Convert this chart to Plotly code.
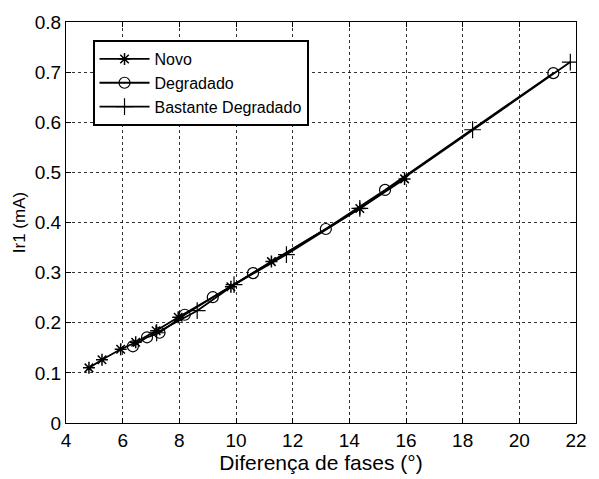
import plotly.graph_objects as go

novo_x = [4.81, 5.27, 5.93, 6.46, 7.18, 7.96, 9.82, 11.25, 14.37, 15.95]
novo_y = [0.110, 0.126, 0.147, 0.161, 0.184, 0.211, 0.272, 0.322, 0.428, 0.487]

degr_x = [6.36, 6.86, 7.30, 8.19, 9.18, 10.60, 13.17, 15.26, 21.20]
degr_y = [0.153, 0.171, 0.180, 0.216, 0.251, 0.299, 0.387, 0.465, 0.698]

bast_x = [7.20, 8.63, 9.93, 11.78, 14.37, 18.35, 21.80]
bast_y = [0.180, 0.224, 0.276, 0.336, 0.428, 0.585, 0.720]

names = ["Novo", "Degradado", "Bastante Degradado"]
xticks = list(range(4, 23, 2))
yticks = [0, 0.1, 0.2, 0.3, 0.4, 0.5, 0.6, 0.7, 0.8]

fig = go.Figure()
fig.add_trace(go.Scatter(x=novo_x, y=novo_y, name=names[0], mode="lines+markers",
                         line=dict(color="black", width=1.8),
                         marker=dict(symbol="asterisk-open", size=10, color="black",
                                     line=dict(color="black", width=1.5))))
fig.add_trace(go.Scatter(x=degr_x, y=degr_y, name=names[1], mode="lines+markers",
                         line=dict(color="black", width=1.8),
                         marker=dict(symbol="circle-open", size=11, color="black",
                                     line=dict(color="black", width=1.2))))
fig.add_trace(go.Scatter(x=bast_x, y=bast_y, name=names[2], mode="lines+markers",
                         line=dict(color="black", width=1.8),
                         marker=dict(symbol="cross-thin-open", size=12, color="black",
                                     line=dict(color="black", width=1.2))))

axis_common = dict(showline=True, linecolor="black", linewidth=1, mirror="ticks",
                   ticks="inside", ticklen=5, tickcolor="black",
                   showgrid=True, gridcolor="rgba(0,0,0,0.8)", griddash="dot", gridwidth=1,
                   zeroline=False, tickfont=dict(family="Liberation Sans, Arial", size=19, color="black"))

fig.update_layout(
    width=599, height=479,
    margin=dict(l=66, r=15, t=20, b=47),
    paper_bgcolor="white", plot_bgcolor="white",
    font=dict(family="Liberation Sans, Arial", color="black"),
    xaxis=dict(range=[4, 22], tickvals=xticks,
               title=dict(text="Diferença de fases (°)", font=dict(size=21), standoff=2),
               **axis_common),
    yaxis=dict(range=[0, 0.8], tickvals=yticks, ticktext=["0"] + [f"{v:.1f}" for v in yticks[1:]],
               title=dict(text="Ir1 (mA)", font=dict(size=17), standoff=4),
               **axis_common),
    legend=dict(x=0.052, y=0.955, xanchor="left", yanchor="top",
                bgcolor="white", bordercolor="black", borderwidth=2,
                font=dict(size=16, color="black"), tracegroupgap=0,
                itemwidth=50),
    showlegend=True,
)

fig.write_html("out.html")
